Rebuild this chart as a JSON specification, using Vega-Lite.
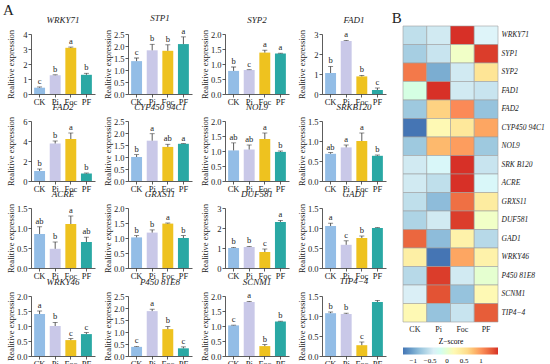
{
"$schema": "https://vega.github.io/schema/vega-lite/v6.json",
"padding": {"left": 2, "top": 2, "right": 2, "bottom": 2},
"datasets": {
"bars": [
{"g":"WRKY71","c":"CK","v":0.42,"h":0.47,"l":"c"},{"g":"WRKY71","c":"Pi","v":1.25,"h":1.28,"l":"b"},{"g":"WRKY71","c":"Foc","v":3.08,"h":3.13,"l":"a"},{"g":"WRKY71","c":"PF","v":1.28,"h":1.38,"l":"b"},
{"g":"STP1","c":"CK","v":1.37,"h":1.5,"l":"c"},{"g":"STP1","c":"Pi","v":1.82,"h":2.07,"l":"b"},{"g":"STP1","c":"Foc","v":1.8,"h":2.05,"l":"b"},{"g":"STP1","c":"PF","v":2.08,"h":2.38,"l":"a"},
{"g":"SYP2","c":"CK","v":0.77,"h":0.9,"l":"b"},{"g":"SYP2","c":"Pi","v":0.8,"h":0.81,"l":"c"},{"g":"SYP2","c":"Foc","v":1.38,"h":1.46,"l":"a"},{"g":"SYP2","c":"PF","v":1.35,"h":1.36,"l":"a"},
{"g":"FAD1","c":"CK","v":1.05,"h":1.38,"l":"b"},{"g":"FAD1","c":"Pi","v":2.65,"h":2.68,"l":"a"},{"g":"FAD1","c":"Foc","v":0.88,"h":0.93,"l":"b"},{"g":"FAD1","c":"PF","v":0.2,"h":0.3,"l":"c"},
{"g":"FAD2","c":"CK","v":1.0,"h":1.2,"l":"b"},{"g":"FAD2","c":"Pi","v":3.75,"h":4.0,"l":"b"},{"g":"FAD2","c":"Foc","v":4.2,"h":4.8,"l":"a"},{"g":"FAD2","c":"PF","v":0.75,"h":0.8,"l":"b"},
{"g":"CYP450 94C1","c":"CK","v":1.0,"h":1.1,"l":"b"},{"g":"CYP450 94C1","c":"Pi","v":1.68,"h":1.97,"l":"a"},{"g":"CYP450 94C1","c":"Foc","v":1.42,"h":1.53,"l":"ab"},{"g":"CYP450 94C1","c":"PF","v":1.55,"h":1.56,"l":"a"},
{"g":"NOL9","c":"CK","v":1.02,"h":1.27,"l":"ab"},{"g":"NOL9","c":"Pi","v":1.05,"h":1.2,"l":"ab"},{"g":"NOL9","c":"Foc","v":1.4,"h":1.6,"l":"a"},{"g":"NOL9","c":"PF","v":0.97,"h":1.0,"l":"b"},
{"g":"SRKB120","c":"CK","v":0.68,"h":0.71,"l":"ab"},{"g":"SRKB120","c":"Pi","v":0.84,"h":0.9,"l":"a"},{"g":"SRKB120","c":"Foc","v":1.0,"h":1.2,"l":"a"},{"g":"SRKB120","c":"PF","v":0.63,"h":0.65,"l":"b"},
{"g":"ACRE","c":"CK","v":0.85,"h":1.03,"l":"ab"},{"g":"ACRE","c":"Pi","v":0.48,"h":0.65,"l":"b"},{"g":"ACRE","c":"Foc","v":1.1,"h":1.3,"l":"a"},{"g":"ACRE","c":"PF","v":0.65,"h":0.77,"l":"ab"},
{"g":"GRXS11","c":"CK","v":1.02,"h":1.08,"l":"b"},{"g":"GRXS11","c":"Pi","v":1.18,"h":1.27,"l":"b"},{"g":"GRXS11","c":"Foc","v":1.48,"h":1.5,"l":"a"},{"g":"GRXS11","c":"PF","v":1.0,"h":1.08,"l":"b"},
{"g":"DUF581","c":"CK","v":1.0,"h":1.03,"l":"b"},{"g":"DUF581","c":"Pi","v":1.05,"h":1.08,"l":"b"},{"g":"DUF581","c":"Foc","v":0.8,"h":0.95,"l":"c"},{"g":"DUF581","c":"PF","v":2.3,"h":2.38,"l":"a"},
{"g":"GAD1","c":"CK","v":1.05,"h":1.12,"l":"a"},{"g":"GAD1","c":"Pi","v":0.58,"h":0.68,"l":"c"},{"g":"GAD1","c":"Foc","v":0.75,"h":0.8,"l":"b"},{"g":"GAD1","c":"PF","v":1.0,"h":1.01,"l":""},
{"g":"WRKY46","c":"CK","v":1.4,"h":1.5,"l":"a"},{"g":"WRKY46","c":"Pi","v":1.0,"h":1.12,"l":"b"},{"g":"WRKY46","c":"Foc","v":0.53,"h":0.58,"l":"c"},{"g":"WRKY46","c":"PF","v":0.73,"h":0.78,"l":"c"},
{"g":"P450 81E8","c":"CK","v":0.38,"h":0.4,"l":"c"},{"g":"P450 81E8","c":"Pi","v":1.87,"h":1.95,"l":"a"},{"g":"P450 81E8","c":"Foc","v":1.12,"h":1.23,"l":"b"},{"g":"P450 81E8","c":"PF","v":0.32,"h":0.38,"l":"c"},
{"g":"SCNM1","c":"CK","v":1.02,"h":1.03,"l":"c"},{"g":"SCNM1","c":"Pi","v":1.8,"h":1.82,"l":"a"},{"g":"SCNM1","c":"Foc","v":0.33,"h":0.38,"l":"b"},{"g":"SCNM1","c":"PF","v":1.15,"h":1.16,"l":"b"},
{"g":"TIP4−4","c":"CK","v":1.07,"h":1.1,"l":"b"},{"g":"TIP4−4","c":"Pi","v":1.05,"h":1.07,"l":"b"},{"g":"TIP4−4","c":"Foc","v":0.27,"h":0.35,"l":"c"},{"g":"TIP4−4","c":"PF","v":1.35,"h":1.39,"l":""}
],
"heat": [
{"g":"WRKY71","c":"CK","z":-0.55},{"g":"WRKY71","c":"Pi","z":-0.45},{"g":"WRKY71","c":"Foc","z":1.5},{"g":"WRKY71","c":"PF","z":-0.35},
{"g":"SYP1","c":"CK","z":-0.7},{"g":"SYP1","c":"Pi","z":-0.5},{"g":"SYP1","c":"Foc","z":0.05},{"g":"SYP1","c":"PF","z":1.45},
{"g":"SYP2","c":"CK","z":1.15},{"g":"SYP2","c":"Pi","z":-0.95},{"g":"SYP2","c":"Foc","z":-0.45},{"g":"SYP2","c":"PF","z":0.5},
{"g":"FAD1","c":"CK","z":-0.1},{"g":"FAD1","c":"Pi","z":1.5},{"g":"FAD1","c":"Foc","z":-0.45},{"g":"FAD1","c":"PF","z":-0.5},
{"g":"FAD2","c":"CK","z":-0.75},{"g":"FAD2","c":"Pi","z":0.65},{"g":"FAD2","c":"Foc","z":1.05},{"g":"FAD2","c":"PF","z":-0.8},
{"g":"CYP450 94C1","c":"CK","z":-1.3},{"g":"CYP450 94C1","c":"Pi","z":0.2},{"g":"CYP450 94C1","c":"Foc","z":0.45},{"g":"CYP450 94C1","c":"PF","z":0.9},
{"g":"NOL9","c":"CK","z":-0.75},{"g":"NOL9","c":"Pi","z":0.8},{"g":"NOL9","c":"Foc","z":0.95},{"g":"NOL9","c":"PF","z":-0.75},
{"g":"SRK B120","c":"CK","z":-0.45},{"g":"SRK B120","c":"Pi","z":-0.3},{"g":"SRK B120","c":"Foc","z":1.5},{"g":"SRK B120","c":"PF","z":-0.5},
{"g":"ACRE","c":"CK","z":-0.45},{"g":"ACRE","c":"Pi","z":-0.55},{"g":"ACRE","c":"Foc","z":1.5},{"g":"ACRE","c":"PF","z":-0.3},
{"g":"GRXS11","c":"CK","z":-0.55},{"g":"GRXS11","c":"Pi","z":-0.85},{"g":"GRXS11","c":"Foc","z":1.2},{"g":"GRXS11","c":"PF","z":0.4},
{"g":"DUF581","c":"CK","z":-0.65},{"g":"DUF581","c":"Pi","z":-0.45},{"g":"DUF581","c":"Foc","z":1.45},{"g":"DUF581","c":"PF","z":0.05},
{"g":"GAD1","c":"CK","z":1.25},{"g":"GAD1","c":"Pi","z":-0.85},{"g":"GAD1","c":"Foc","z":0.3},{"g":"GAD1","c":"PF","z":-0.6},
{"g":"WRKY46","c":"CK","z":0.35},{"g":"WRKY46","c":"Pi","z":-1.3},{"g":"WRKY46","c":"Foc","z":0.9},{"g":"WRKY46","c":"PF","z":0.3},
{"g":"P450 81E8","c":"CK","z":-0.6},{"g":"P450 81E8","c":"Pi","z":1.45},{"g":"P450 81E8","c":"Foc","z":-0.45},{"g":"P450 81E8","c":"PF","z":0.0},
{"g":"SCNM1","c":"CK","z":-0.4},{"g":"SCNM1","c":"Pi","z":1.35},{"g":"SCNM1","c":"Foc","z":-0.8},{"g":"SCNM1","c":"PF","z":0.2},
{"g":"TIP4−4","c":"CK","z":0.2},{"g":"TIP4−4","c":"Pi","z":-0.8},{"g":"TIP4−4","c":"Foc","z":-0.5},{"g":"TIP4−4","c":"PF","z":1.3}
]
},
"data": {"name": "bars"},
"spacing": 5,
"hconcat": [
{
"title": {"text": "A", "anchor": "start", "fontStyle": "normal", "fontSize": 15, "offset": -4, "dx": -3, "frame": "bounds"},
"columns": 4,
"spacing": {"row": -3, "column": 7},
"concat": [
{"title":"WRKY71","width":64,"height":60,"transform":[{"filter":{"field":"g","equal":"WRKY71"}}],"encoding":{"x":{"field":"c","type":"nominal","sort":null,"title":null},"y":{"field":"v","type":"quantitative","title":"Realitive expression","scale":{"domain":[0,4]},"axis":{"values":[0,1,2,3,4],"format":"d"}}},"layer":[{"mark":"bar","encoding":{"fill":{"field":"c","sort":null,"legend":null,"scale":{"domain":["CK","Pi","Foc","PF"],"range":["#93BDE6","#C9C8E8","#EEC21F","#2AA8A4"]}}}},{"mark":"rule","encoding":{"y2":{"field":"h"}}},{"mark":"tick","encoding":{"y":{"field":"h","type":"quantitative"}}},{"mark":"text","encoding":{"y":{"field":"h","type":"quantitative"},"text":{"field":"l"}}}]},
{"title":"STP1","width":64,"height":60,"transform":[{"filter":{"field":"g","equal":"STP1"}}],"encoding":{"x":{"field":"c","type":"nominal","sort":null,"title":null},"y":{"field":"v","type":"quantitative","title":"Realitive expression","scale":{"domain":[0,2.5]},"axis":{"values":[0,0.5,1,1.5,2,2.5],"format":".1f"}}},"layer":[{"mark":"bar","encoding":{"fill":{"field":"c","sort":null,"legend":null,"scale":{"domain":["CK","Pi","Foc","PF"],"range":["#93BDE6","#C9C8E8","#EEC21F","#2AA8A4"]}}}},{"mark":"rule","encoding":{"y2":{"field":"h"}}},{"mark":"tick","encoding":{"y":{"field":"h","type":"quantitative"}}},{"mark":"text","encoding":{"y":{"field":"h","type":"quantitative"},"text":{"field":"l"}}}]},
{"title":"SYP2","width":64,"height":60,"transform":[{"filter":{"field":"g","equal":"SYP2"}}],"encoding":{"x":{"field":"c","type":"nominal","sort":null,"title":null},"y":{"field":"v","type":"quantitative","title":"Realitive expression","scale":{"domain":[0,2]},"axis":{"values":[0,0.5,1,1.5,2],"format":".1f"}}},"layer":[{"mark":"bar","encoding":{"fill":{"field":"c","sort":null,"legend":null,"scale":{"domain":["CK","Pi","Foc","PF"],"range":["#93BDE6","#C9C8E8","#EEC21F","#2AA8A4"]}}}},{"mark":"rule","encoding":{"y2":{"field":"h"}}},{"mark":"tick","encoding":{"y":{"field":"h","type":"quantitative"}}},{"mark":"text","encoding":{"y":{"field":"h","type":"quantitative"},"text":{"field":"l"}}}]},
{"title":"FAD1","width":64,"height":60,"transform":[{"filter":{"field":"g","equal":"FAD1"}}],"encoding":{"x":{"field":"c","type":"nominal","sort":null,"title":null},"y":{"field":"v","type":"quantitative","title":"Realitive expression","scale":{"domain":[0,3]},"axis":{"values":[0,1,2,3],"format":"d"}}},"layer":[{"mark":"bar","encoding":{"fill":{"field":"c","sort":null,"legend":null,"scale":{"domain":["CK","Pi","Foc","PF"],"range":["#93BDE6","#C9C8E8","#EEC21F","#2AA8A4"]}}}},{"mark":"rule","encoding":{"y2":{"field":"h"}}},{"mark":"tick","encoding":{"y":{"field":"h","type":"quantitative"}}},{"mark":"text","encoding":{"y":{"field":"h","type":"quantitative"},"text":{"field":"l"}}}]},
{"title":"FAD2","width":64,"height":60,"transform":[{"filter":{"field":"g","equal":"FAD2"}}],"encoding":{"x":{"field":"c","type":"nominal","sort":null,"title":null},"y":{"field":"v","type":"quantitative","title":"Realitive expression","scale":{"domain":[0,6]},"axis":{"values":[0,2,4,6],"format":"d"}}},"layer":[{"mark":"bar","encoding":{"fill":{"field":"c","sort":null,"legend":null,"scale":{"domain":["CK","Pi","Foc","PF"],"range":["#93BDE6","#C9C8E8","#EEC21F","#2AA8A4"]}}}},{"mark":"rule","encoding":{"y2":{"field":"h"}}},{"mark":"tick","encoding":{"y":{"field":"h","type":"quantitative"}}},{"mark":"text","encoding":{"y":{"field":"h","type":"quantitative"},"text":{"field":"l"}}}]},
{"title":"CYP450 94C1","width":64,"height":60,"transform":[{"filter":{"field":"g","equal":"CYP450 94C1"}}],"encoding":{"x":{"field":"c","type":"nominal","sort":null,"title":null},"y":{"field":"v","type":"quantitative","title":"Realitive expression","scale":{"domain":[0,2.5]},"axis":{"values":[0,0.5,1,1.5,2,2.5],"format":".1f"}}},"layer":[{"mark":"bar","encoding":{"fill":{"field":"c","sort":null,"legend":null,"scale":{"domain":["CK","Pi","Foc","PF"],"range":["#93BDE6","#C9C8E8","#EEC21F","#2AA8A4"]}}}},{"mark":"rule","encoding":{"y2":{"field":"h"}}},{"mark":"tick","encoding":{"y":{"field":"h","type":"quantitative"}}},{"mark":"text","encoding":{"y":{"field":"h","type":"quantitative"},"text":{"field":"l"}}}]},
{"title":"NOL9","width":64,"height":60,"transform":[{"filter":{"field":"g","equal":"NOL9"}}],"encoding":{"x":{"field":"c","type":"nominal","sort":null,"title":null},"y":{"field":"v","type":"quantitative","title":"Realitive expression","scale":{"domain":[0,2]},"axis":{"values":[0,0.5,1,1.5,2],"format":".1f"}}},"layer":[{"mark":"bar","encoding":{"fill":{"field":"c","sort":null,"legend":null,"scale":{"domain":["CK","Pi","Foc","PF"],"range":["#93BDE6","#C9C8E8","#EEC21F","#2AA8A4"]}}}},{"mark":"rule","encoding":{"y2":{"field":"h"}}},{"mark":"tick","encoding":{"y":{"field":"h","type":"quantitative"}}},{"mark":"text","encoding":{"y":{"field":"h","type":"quantitative"},"text":{"field":"l"}}}]},
{"title":"SRKB120","width":64,"height":60,"transform":[{"filter":{"field":"g","equal":"SRKB120"}}],"encoding":{"x":{"field":"c","type":"nominal","sort":null,"title":null},"y":{"field":"v","type":"quantitative","title":"Realitive expression","scale":{"domain":[0,1.5]},"axis":{"values":[0,0.5,1,1.5],"format":".1f"}}},"layer":[{"mark":"bar","encoding":{"fill":{"field":"c","sort":null,"legend":null,"scale":{"domain":["CK","Pi","Foc","PF"],"range":["#93BDE6","#C9C8E8","#EEC21F","#2AA8A4"]}}}},{"mark":"rule","encoding":{"y2":{"field":"h"}}},{"mark":"tick","encoding":{"y":{"field":"h","type":"quantitative"}}},{"mark":"text","encoding":{"y":{"field":"h","type":"quantitative"},"text":{"field":"l"}}}]},
{"title":"ACRE","width":64,"height":60,"transform":[{"filter":{"field":"g","equal":"ACRE"}}],"encoding":{"x":{"field":"c","type":"nominal","sort":null,"title":null},"y":{"field":"v","type":"quantitative","title":"Realitive expression","scale":{"domain":[0,1.5]},"axis":{"values":[0,0.5,1,1.5],"format":".1f"}}},"layer":[{"mark":"bar","encoding":{"fill":{"field":"c","sort":null,"legend":null,"scale":{"domain":["CK","Pi","Foc","PF"],"range":["#93BDE6","#C9C8E8","#EEC21F","#2AA8A4"]}}}},{"mark":"rule","encoding":{"y2":{"field":"h"}}},{"mark":"tick","encoding":{"y":{"field":"h","type":"quantitative"}}},{"mark":"text","encoding":{"y":{"field":"h","type":"quantitative"},"text":{"field":"l"}}}]},
{"title":"GRXS11","width":64,"height":60,"transform":[{"filter":{"field":"g","equal":"GRXS11"}}],"encoding":{"x":{"field":"c","type":"nominal","sort":null,"title":null},"y":{"field":"v","type":"quantitative","title":"Realitive expression","scale":{"domain":[0,2]},"axis":{"values":[0,0.5,1,1.5,2],"format":".1f"}}},"layer":[{"mark":"bar","encoding":{"fill":{"field":"c","sort":null,"legend":null,"scale":{"domain":["CK","Pi","Foc","PF"],"range":["#93BDE6","#C9C8E8","#EEC21F","#2AA8A4"]}}}},{"mark":"rule","encoding":{"y2":{"field":"h"}}},{"mark":"tick","encoding":{"y":{"field":"h","type":"quantitative"}}},{"mark":"text","encoding":{"y":{"field":"h","type":"quantitative"},"text":{"field":"l"}}}]},
{"title":"DUF581","width":64,"height":60,"transform":[{"filter":{"field":"g","equal":"DUF581"}}],"encoding":{"x":{"field":"c","type":"nominal","sort":null,"title":null},"y":{"field":"v","type":"quantitative","title":"Realitive expression","scale":{"domain":[0,3]},"axis":{"values":[0,1,2,3],"format":"d"}}},"layer":[{"mark":"bar","encoding":{"fill":{"field":"c","sort":null,"legend":null,"scale":{"domain":["CK","Pi","Foc","PF"],"range":["#93BDE6","#C9C8E8","#EEC21F","#2AA8A4"]}}}},{"mark":"rule","encoding":{"y2":{"field":"h"}}},{"mark":"tick","encoding":{"y":{"field":"h","type":"quantitative"}}},{"mark":"text","encoding":{"y":{"field":"h","type":"quantitative"},"text":{"field":"l"}}}]},
{"title":"GAD1","width":64,"height":60,"transform":[{"filter":{"field":"g","equal":"GAD1"}}],"encoding":{"x":{"field":"c","type":"nominal","sort":null,"title":null},"y":{"field":"v","type":"quantitative","title":"Realitive expression","scale":{"domain":[0,1.5]},"axis":{"values":[0,0.5,1,1.5],"format":".1f"}}},"layer":[{"mark":"bar","encoding":{"fill":{"field":"c","sort":null,"legend":null,"scale":{"domain":["CK","Pi","Foc","PF"],"range":["#93BDE6","#C9C8E8","#EEC21F","#2AA8A4"]}}}},{"mark":"rule","encoding":{"y2":{"field":"h"}}},{"mark":"tick","encoding":{"y":{"field":"h","type":"quantitative"}}},{"mark":"text","encoding":{"y":{"field":"h","type":"quantitative"},"text":{"field":"l"}}}]},
{"title":"WRKY46","width":64,"height":60,"transform":[{"filter":{"field":"g","equal":"WRKY46"}}],"encoding":{"x":{"field":"c","type":"nominal","sort":null,"title":null},"y":{"field":"v","type":"quantitative","title":"Realitive expression","scale":{"domain":[0,2]},"axis":{"values":[0,0.5,1,1.5,2],"format":".1f"}}},"layer":[{"mark":"bar","encoding":{"fill":{"field":"c","sort":null,"legend":null,"scale":{"domain":["CK","Pi","Foc","PF"],"range":["#93BDE6","#C9C8E8","#EEC21F","#2AA8A4"]}}}},{"mark":"rule","encoding":{"y2":{"field":"h"}}},{"mark":"tick","encoding":{"y":{"field":"h","type":"quantitative"}}},{"mark":"text","encoding":{"y":{"field":"h","type":"quantitative"},"text":{"field":"l"}}}]},
{"title":"P450 81E8","width":64,"height":60,"transform":[{"filter":{"field":"g","equal":"P450 81E8"}}],"encoding":{"x":{"field":"c","type":"nominal","sort":null,"title":null},"y":{"field":"v","type":"quantitative","title":"Realitive expression","scale":{"domain":[0,2.5]},"axis":{"values":[0,0.5,1,1.5,2,2.5],"format":".1f"}}},"layer":[{"mark":"bar","encoding":{"fill":{"field":"c","sort":null,"legend":null,"scale":{"domain":["CK","Pi","Foc","PF"],"range":["#93BDE6","#C9C8E8","#EEC21F","#2AA8A4"]}}}},{"mark":"rule","encoding":{"y2":{"field":"h"}}},{"mark":"tick","encoding":{"y":{"field":"h","type":"quantitative"}}},{"mark":"text","encoding":{"y":{"field":"h","type":"quantitative"},"text":{"field":"l"}}}]},
{"title":"SCNM1","width":64,"height":60,"transform":[{"filter":{"field":"g","equal":"SCNM1"}}],"encoding":{"x":{"field":"c","type":"nominal","sort":null,"title":null},"y":{"field":"v","type":"quantitative","title":"Realitive expression","scale":{"domain":[0,2]},"axis":{"values":[0,0.5,1,1.5,2],"format":".1f"}}},"layer":[{"mark":"bar","encoding":{"fill":{"field":"c","sort":null,"legend":null,"scale":{"domain":["CK","Pi","Foc","PF"],"range":["#93BDE6","#C9C8E8","#EEC21F","#2AA8A4"]}}}},{"mark":"rule","encoding":{"y2":{"field":"h"}}},{"mark":"tick","encoding":{"y":{"field":"h","type":"quantitative"}}},{"mark":"text","encoding":{"y":{"field":"h","type":"quantitative"},"text":{"field":"l"}}}]},
{"title":"TIP4−4","width":64,"height":60,"transform":[{"filter":{"field":"g","equal":"TIP4−4"}}],"encoding":{"x":{"field":"c","type":"nominal","sort":null,"title":null},"y":{"field":"v","type":"quantitative","title":"Realitive expression","scale":{"domain":[0,1.5]},"axis":{"values":[0,0.5,1,1.5],"format":".1f"}}},"layer":[{"mark":"bar","encoding":{"fill":{"field":"c","sort":null,"legend":null,"scale":{"domain":["CK","Pi","Foc","PF"],"range":["#93BDE6","#C9C8E8","#EEC21F","#2AA8A4"]}}}},{"mark":"rule","encoding":{"y2":{"field":"h"}}},{"mark":"tick","encoding":{"y":{"field":"h","type":"quantitative"}}},{"mark":"text","encoding":{"y":{"field":"h","type":"quantitative"},"text":{"field":"l"}}}]}
]
},
{
"title": {"text": "B", "anchor": "start", "fontStyle": "normal", "fontSize": 15, "dx": -11, "offset": 0, "frame": "bounds"},
"data": {"name": "heat"},
"width": 95,
"height": 288,
"mark": {"type": "rect", "stroke": "#a0a0a0", "strokeWidth": 0.6},
"encoding": {
"x": {"field": "c", "type": "nominal", "sort": null, "scale": {"paddingInner": 0, "paddingOuter": 0}, "axis": {"title": null, "ticks": false, "domain": false, "labelPadding": 3, "labelFontSize": 8}},
"y": {"field": "g", "type": "nominal", "sort": null, "scale": {"paddingInner": 0, "paddingOuter": 0, "range": [-8, 288]}, "axis": {"title": null, "orient": "right", "ticks": false, "domain": false, "labelFontStyle": "italic", "labelFontSize": 7.5, "labelPadding": 3, "minExtent": 0, "maxExtent": 200}},
"color": {"field": "z", "type": "quantitative", "scale": {"domain": [-1.3, 1.5], "range": ["#4575B4", "#91BFDB", "#E0F3F8", "#FFFFBF", "#FEE090", "#FC8D59", "#D73027"]}, "legend": {"title": "Z−score", "orient": "bottom", "direction": "horizontal", "gradientLength": 95, "gradientThickness": 7, "values": [-1, -0.5, 0, 0.5, 1], "format": "~g", "titleAnchor": "middle", "titleOrient": "top", "labelFontSize": 7, "titleFontSize": 7.5, "titleFontWeight": "normal", "offset": 5, "titlePadding": 2, "labelFont": "Liberation Serif", "titleFont": "Liberation Serif"}}
}
}
],
"resolve": {"legend": {"color": "independent"}},
"config": {
"font": "Liberation Serif",
"view": {"stroke": null},
"title": {"font": "Liberation Serif", "fontSize": 9, "fontStyle": "italic", "fontWeight": "normal", "offset": 0, "frame": "group", "color": "#222"},
"axis": {"labelFont": "Liberation Serif", "titleFont": "Liberation Serif", "labelColor": "#222", "titleColor": "#222", "domainColor": "#333", "tickColor": "#333", "grid": false, "tickSize": 3, "labelFontSize": 8.5, "titleFontSize": 8.5, "titleFontWeight": "normal", "domainWidth": 0.8, "tickWidth": 0.8},
"axisY": {"titlePadding": 2, "labelPadding": 1, "minExtent": 14, "maxExtent": 14},
"axisX": {"labelAngle": 0, "labelPadding": 0},
"scale": {"bandPaddingInner": 0.3, "bandPaddingOuter": 0.2},
"rule": {"color": "#333", "strokeWidth": 0.8},
"tick": {"color": "#333", "thickness": 0.8, "size": 5},
"text": {"font": "Liberation Serif", "fontSize": 8.5, "baseline": "bottom", "dy": -1, "color": "#222"}
}
}
